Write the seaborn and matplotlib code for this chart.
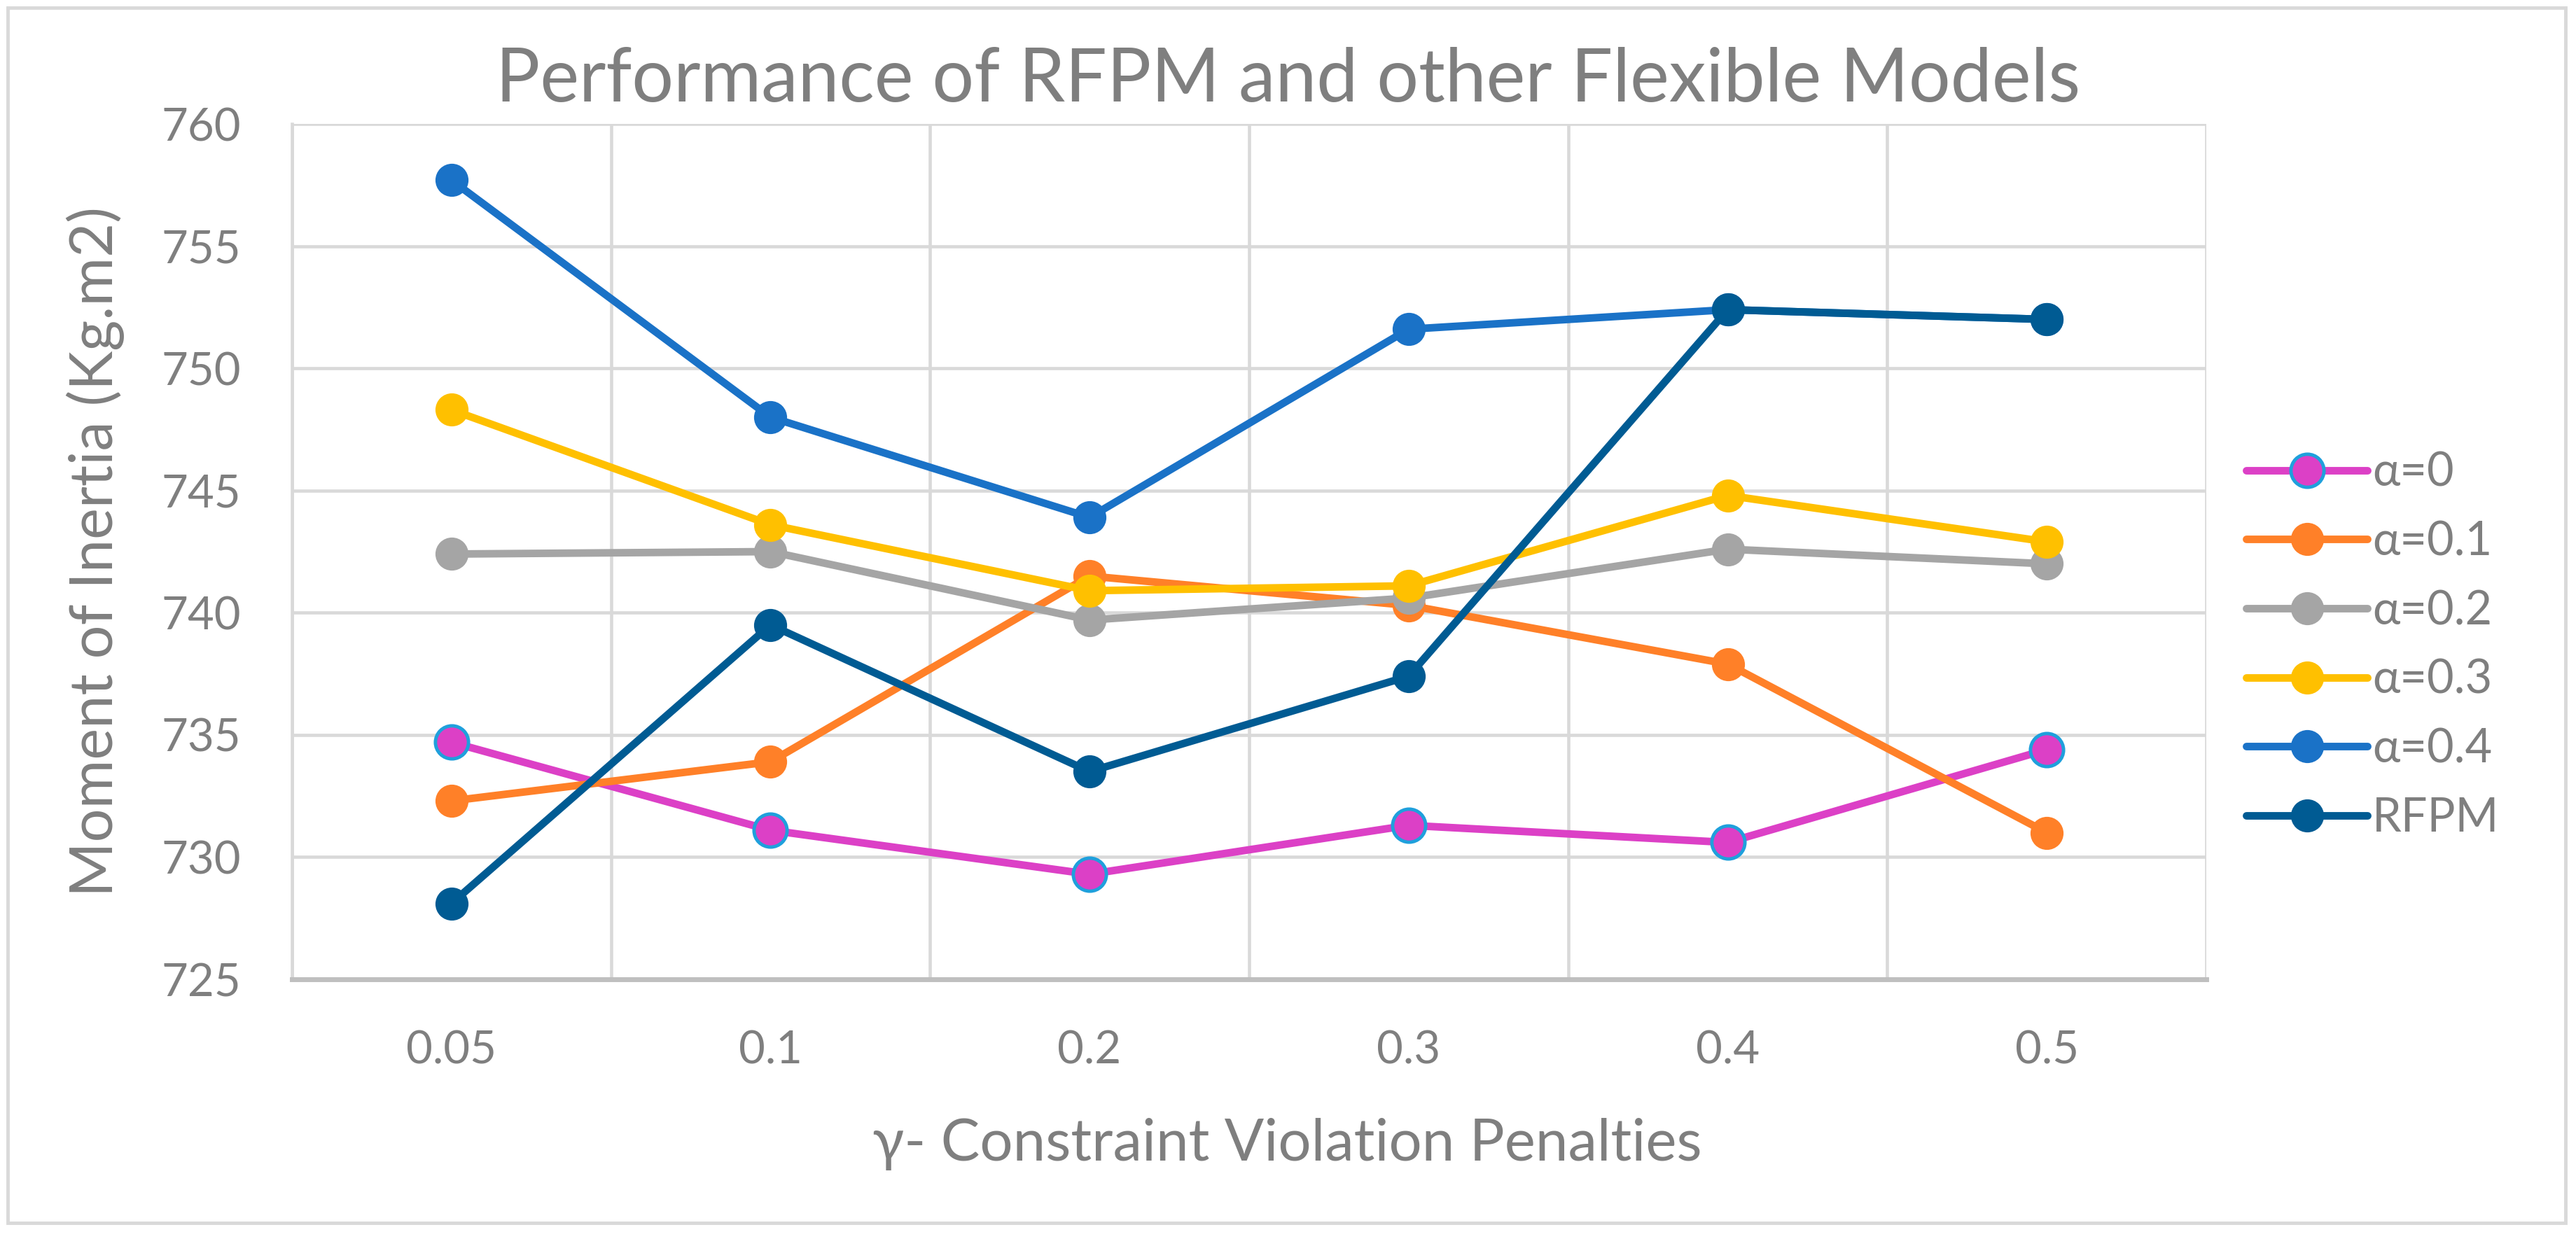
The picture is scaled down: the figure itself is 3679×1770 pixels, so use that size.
import matplotlib
matplotlib.use("Agg")
import matplotlib.pyplot as plt
from matplotlib.patches import Rectangle
import numpy as np
import pandas as pd
import seaborn as sns

gammas = ["0.05", "0.1", "0.2", "0.3", "0.4", "0.5"]
alpha_0 = [734.7, 731.1, 729.3, 731.3, 730.6, 734.4]
alpha_01 = [732.3, 733.9, 741.5, 740.3, 737.9, 731.0]
alpha_02 = [742.4, 742.5, 739.7, 740.6, 742.6, 742.0]
alpha_03 = [748.3, 743.6, 740.9, 741.1, 744.8, 742.9]
alpha_04 = [757.7, 748.0, 743.9, 751.6, 752.4, 752.0]
rfpm = [728.1, 739.5, 733.5, 737.4, 752.4, 752.0]

series = [
    ("α=0", alpha_0, "#DC40C6", "#1FA0DC"),
    ("α=0.1", alpha_01, "#FF8028", None),
    ("α=0.2", alpha_02, "#A5A5A5", None),
    ("α=0.3", alpha_03, "#FFC000", None),
    ("α=0.4", alpha_04, "#1A72C7", None),
    ("RFPM", rfpm, "#005B93", None),
]
yticks = [725, 730, 735, 740, 745, 750, 755, 760]

sns.set_style("white")
plt.rcParams["font.family"] = ["Lato", "DejaVu Sans"]
text_grey = "#7F7F7F"
grid_grey = "#D9D9D9"

fig = plt.figure(figsize=(36.79, 17.70), dpi=100)
ax = fig.add_axes([0.1133, 0.2096, 0.7432, 0.6904])

pos = np.arange(len(gammas))
for name, vals, col, edge in series:
    df = pd.DataFrame({"x": pos, "y": vals})
    sns.lineplot(data=df, x="x", y="y", ax=ax, color=col, linewidth=7.8,
                 marker="o", markersize=34,
                 markeredgecolor=edge if edge else col,
                 markeredgewidth=3.5 if edge else 0,
                 label=name, solid_capstyle="round")

ax.set_xlim(-0.5, len(gammas) - 0.5)
ax.set_ylim(725, 760)
ax.set_yticks(yticks)
ax.set_xticks(pos)
ax.set_xticklabels(gammas)
ax.set_xticks(np.arange(-0.5, len(gammas)), minor=True)
ax.grid(False)
ax.yaxis.grid(True, color=grid_grey, linewidth=3.3)
ax.xaxis.grid(True, which="minor", color=grid_grey, linewidth=3.3)
ax.set_axisbelow(True)
ax.tick_params(axis="both", which="both", length=0, labelsize=47, colors=text_grey)
ax.tick_params(axis="y", pad=52)
ax.tick_params(axis="x", pad=52)
for s in ["top", "right"]:
    ax.spines[s].set_visible(False)
ax.spines["left"].set_color(grid_grey)
ax.spines["left"].set_linewidth(3.3)
ax.spines["bottom"].set_color("#BFBFBF")
ax.spines["bottom"].set_linewidth(5)

ax.set_xlabel("γ- Constraint Violation Penalties", fontsize=60, color=text_grey, labelpad=48)
ax.xaxis.label.set_x(0.52)
ax.set_ylabel("Moment of Inertia (Kg.m2)", fontsize=61, color=text_grey, labelpad=38)
fig.text(0.5, 0.935, "Performance of RFPM and other Flexible Models", fontsize=76,
         color=text_grey, ha="center", va="center")

leg = ax.legend(loc="upper left", bbox_to_anchor=(0.872, 0.6356), bbox_transform=fig.transFigure,
                frameon=False, fontsize=48, handlelength=2.6, handletextpad=0.1,
                labelspacing=0.55, borderpad=0, borderaxespad=0)
for t in leg.get_texts():
    t.set_color(text_grey)

fig.patches.append(Rectangle((0.003, 0.013), 0.993, 0.981, transform=fig.transFigure,
                             fill=False, edgecolor=grid_grey, linewidth=3.5))

fig.savefig("out.png", dpi=100)
